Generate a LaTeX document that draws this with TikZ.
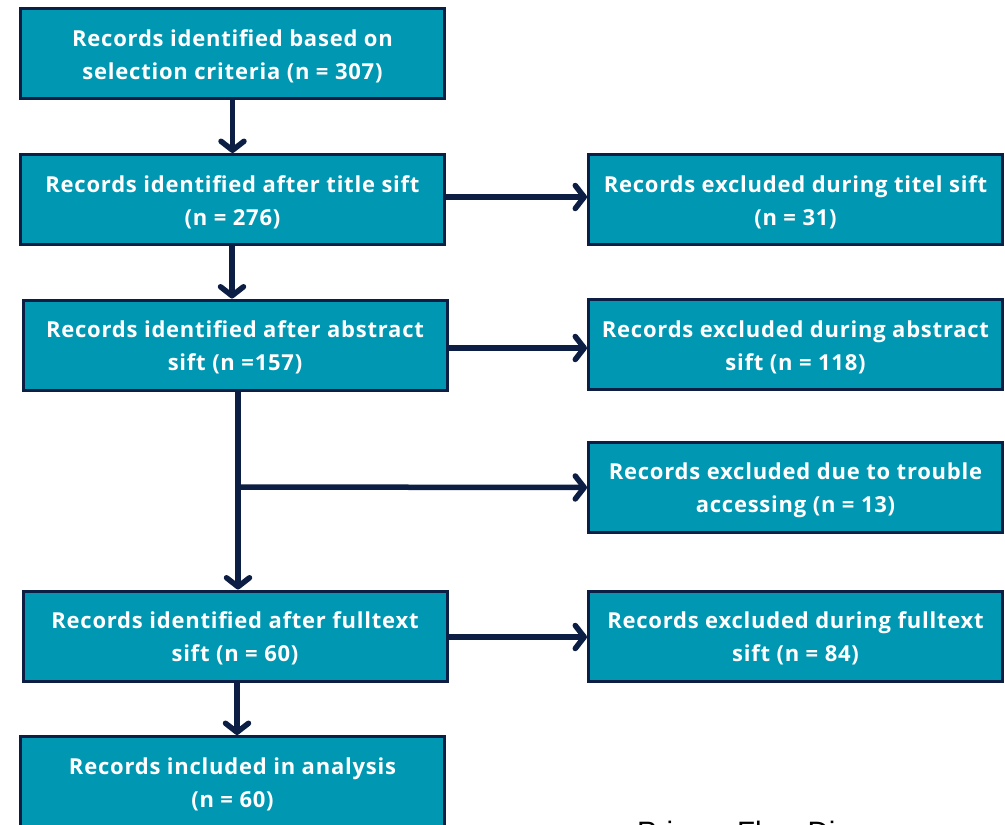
\documentclass[tikz,border=0pt]{standalone}
\usepackage{fontspec}
\setmainfont[LetterSpace=3.5]{Open Sans}
\newfontfamily\captionfont{Liberation Sans}
\usetikzlibrary{arrows.meta}
\definecolor{boxfill}{RGB}{0,151,178}
\definecolor{navy}{RGB}{12,30,68}
\tikzset{
  stage/.style={draw=navy, line width=3pt, fill=boxfill,
    minimum width=424pt, minimum height=90pt, inner sep=0pt},
  excl/.style={stage, minimum width=414pt},
  txt/.style={text=white, font=\fontsize{22}{33}\selectfont\bfseries,
    align=center, inner sep=0pt},
  arr/.style={draw=navy, line width=5.5pt,
    -{Straight Barb[length=9pt,width=23pt,line cap=round,line join=round]}},
}
\newcommand{\boxtext}[2]{\node[txt] (#1t) at ([yshift=-2.5pt]#1.center) {#2};}
\begin{document}
\begin{tikzpicture}[x=1pt,y=-1pt]
  \useasboundingbox (0,0) rectangle (1005,825);
  \clip (0,0) rectangle (1005,825);
  % main column
  \node[stage] (b1) at (232.5,53.5) {};
  \node[stage] (b2) at (232.5,199.5) {};
  \node[stage] (b3) at (235,345) {};
  \node[stage] (b4) at (235,636) {};
  \node[stage] (b5) at (232.5,781.5) {};
  % exclusions
  \node[excl] (r1) at (795.5,199.5) {};
  \node[excl] (r2) at (795.5,344.5) {};
  \node[excl] (r3) at (795.5,487.5) {};
  \node[excl] (r4) at (795.5,636) {};
  % box texts
  \boxtext{b1}{Records identified based on\\selection criteria (n = 307)}
  \boxtext{b2}{Records identified after title sift\\(n = 276)}
  \boxtext{b3}{Records identified after abstract\\sift (n =157)}
  \boxtext{b4}{Records identified after fulltext\\sift (n = 60)}
  \boxtext{b5}{Records included in analysis\\(n = 60)}
  \boxtext{r1}{Records excluded during titel sift\\(n = 31)}
  \boxtext{r2}{Records excluded during abstract\\sift (n = 118)}
  \boxtext{r3}{Records excluded due to trouble\\accessing (n = 13)}
  \boxtext{r4}{Records excluded during fulltext\\sift (n = 84)}
  % caption, cut by the page edge
  \node[anchor=base west, inner sep=0pt, font=\captionfont\fontsize{29.5}{30}\selectfont] (cap) at (637,842) {Prisma Flow Diagram};
  % connectors
  \coordinate (j) at (238,487);
  \draw[arr] (b1.south) -- (b2.north);
  \draw[arr] (b2.south -| 232,0) -- (b3.north -| 232,0);
  \draw[arr] (b3.south -| j) -- (b4.north -| j);
  \draw[arr] (j) -- (r3.west);
  \draw[arr] (b4.south -| 237,0) -- (b5.north -| 237,0);
  \draw[arr] (b2.east |- 0,197) -- (r1.west |- 0,197);
  \draw[arr] (b3.east |- 0,348) -- (r2.west |- 0,348);
  \draw[arr] (b4.east |- 0,637) -- (r4.west |- 0,637);
\end{tikzpicture}
\end{document}
